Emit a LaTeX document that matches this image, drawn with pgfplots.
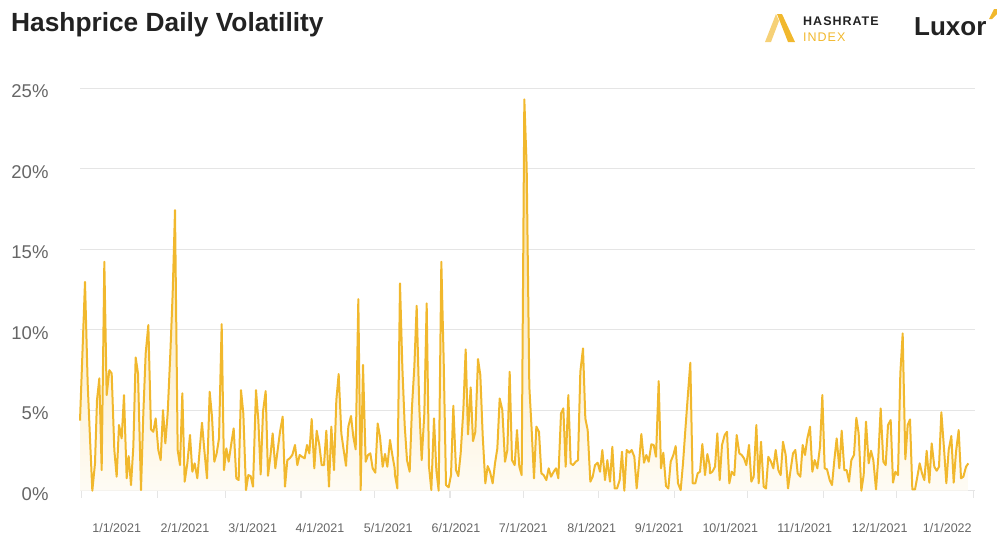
\documentclass[border=0pt]{standalone}
\usepackage{fontspec}
\setmainfont{Liberation Sans}
\usepackage{pgfplots}
\pgfplotsset{compat=1.18}
\usepackage{pgfplotstable}
\definecolor{hy}{RGB}{241,184,45}
\definecolor{gridc}{RGB}{229,229,229}
\definecolor{tickc}{RGB}{102,102,102}
\definecolor{titlec}{RGB}{34,34,34}

\pgfplotstableread{
x y
80 4.35
85 12.98
87.67 6.67
90 3.25
92.33 0
95 1.70
97 5.63
99.33 6.98
101.67 1.28
104.33 14.22
106.67 5.94
109.33 7.49
111.67 7.29
114.33 2.53
116.67 0.87
119 4.08
121.67 3.25
124 5.94
126.67 0.77
128.67 2.15
131 0.35
133.33 2.73
135.67 8.28
138 7.29
141 0.04
143.33 4.80
145.67 8.53
148.33 10.29
151 3.81
153.33 3.66
155.67 4.49
158.33 2.53
160.67 1.90
163 5.01
165.33 2.94
167.67 4.80
170.33 8.53
172.67 12.26
175 17.43
177.67 2.53
180 1.59
182.33 6.05
184.67 0.56
187.33 1.70
190 3.46
192.33 1.18
194.67 1.70
197.33 0.77
199.67 2.53
202 4.22
204.33 2.53
207 0.77
209.67 6.15
212 4.60
214.33 1.80
216.67 2.32
219 3.25
221.67 10.35
224 1.28
226.33 2.63
228.67 1.80
231.33 2.94
233.67 3.87
236.33 0.77
238.67 0.66
241 6.25
243.33 4.80
246 0.04
248.33 0.97
250.67 0.91
253 0.25
256 6.25
258.33 4.39
260.67 1.01
263 4.91
265.67 6.19
268 0.93
270.33 2.11
272.67 3.56
275.33 1.39
277.67 2.53
280 3.66
282.67 4.60
285 0.25
287.33 1.90
289.67 2.01
292.33 2.22
295 2.84
297.33 1.59
299.67 2.22
302 2.11
304.67 2.01
307 2.84
309.33 2.32
311.67 4.45
314.33 1.39
316.67 3.73
319.33 2.84
321.67 1.59
324 1.59
326.33 3.73
329 0.25
331.33 3.98
334 1.28
336.33 5.63
338.67 7.25
341.33 3.56
343.67 2.53
346 1.55
348.33 3.98
351 4.64
353.33 3.35
355.67 2.57
358.33 11.90
360.67 0.04
363 7.81
365.67 1.80
368 2.22
370.33 2.32
372.67 1.39
375.33 1.12
377.67 4.18
380 3.35
382.67 1.49
385 2.28
387.33 1.49
390 3.15
392.33 2.22
394.67 1.39
395 0.97
397.33 0.14
400 12.88
402.33 7.70
404.67 4.08
407 1.90
409.67 1.18
412 5.22
414.33 7.70
416.67 11.49
419.33 5.11
421.67 1.90
424.33 4.80
426.67 11.64
429 1.49
431.33 0.04
434 4.49
436.33 1.28
438.67 0
441.33 14.22
443.67 8.12
446 0.35
448.67 0.21
451 0.97
453.33 5.28
456 1.28
458.33 0.91
460.67 2.32
463.33 5.01
465.67 8.78
468 3.50
470.67 6.42
473 3.08
475.33 3.66
478 8.18
480.33 7.18
482.67 3.46
485.33 0.46
487.67 1.53
490 1.18
492.67 0.46
495 1.70
497.33 2.63
499.67 5.73
502.33 5.01
505 1.80
507.33 2.53
509.67 7.39
512 1.90
514.67 1.59
517 3.77
519.33 1.49
521.67 0.97
524.33 24.31
526.67 20.12
529.33 6.46
531.67 3.77
534 0.77
536.33 3.98
539 3.66
541.33 1.08
543.67 0.97
546.33 0.66
548.67 1.39
551 0.87
553.67 1.18
556 1.39
558.33 0.77
561 4.80
563.33 5.11
565.67 1.49
568.33 5.94
570.67 1.70
573 1.59
575.67 1.80
578 1.90
580.33 7.39
583 8.84
585.33 4.49
587.67 3.77
590.33 0.56
592.67 0.87
595 1.59
597.67 1.74
600 1.18
602.33 2.53
605 0.66
607.33 1.90
610 0.56
612.33 2.73
614.67 0.14
617 0.14
619.67 0.66
622 2.42
624.33 0
626.67 2.53
629.33 2.36
631.67 2.53
634.33 2.11
636.67 0.14
639 1.70
641.33 3.52
644 1.74
646.33 2.22
648.67 1.80
651.33 2.88
653.67 2.84
656 2.11
658.67 6.81
661 1.39
663.33 2.36
666 0.29
668.33 0.14
670.67 1.80
673.33 2.22
675.67 2.77
678 0.46
680.67 0.04
683 1.70
685.33 3.77
688 6.05
690.33 7.95
692.67 0.46
695.33 0.46
697.67 1.08
700 1.18
702.33 2.90
705 0.97
707.33 2.28
709.67 1.59
710 1.08
712.33 1.18
715 1.49
717.33 3.56
719.67 0.66
722 2.84
724.67 3.46
727 3.66
729.33 0.46
731.67 1.18
734.33 0.97
736.67 3.46
739.33 2.32
741.67 2.22
744 2.01
746.33 1.59
749 2.84
751.33 0.56
753.67 0.87
756.33 4.08
758.67 0.46
761 3.04
763.67 0.25
766 0.14
768.33 2.11
771 1.80
773.33 1.39
775.67 2.53
778.33 1.28
780.67 0.97
783 3.04
785.67 2.22
788 0.14
790.33 1.18
793 2.32
795.33 2.53
797.67 1.08
800.33 0.87
802.67 2.84
805 2.22
807.33 3.25
810 3.98
812.33 1.18
814.67 1.90
817.33 1.39
820 2.73
822.33 5.94
824.67 1.39
827 1.33
829.67 0.66
832 0.35
834.33 1.90
836.67 3.25
839.33 1.39
841.67 3.73
844.33 1.28
846.67 1.28
849 0.56
851.33 1.90
854 2.22
856.33 4.53
858.67 3.56
861.33 0
863.67 0.97
866 4.29
868.67 1.70
871 2.48
873.33 1.90
876 0.08
878.33 2.11
880.67 5.11
883.33 1.80
885.67 1.59
888 4.08
890.67 4.39
893 0.50
895.33 1.18
898 0.97
900.33 7.29
902.67 9.77
905.33 1.95
907.67 4.08
910 4.43
912.33 0.08
915 0.08
917.33 0.87
919.67 1.70
922 1.08
924.33 0.66
926.67 2.48
929.33 0.50
931.67 2.94
934.33 1.49
936.67 1.24
939 1.49
941.33 4.87
944 2.63
946.33 0.46
948.67 2.53
951.33 3.40
953.67 0.50
956 2.42
958.67 3.77
961 0.77
963.33 0.87
966 1.49
968.33 1.70
}\vol

\begin{document}
\begin{tikzpicture}
\path[use as bounding box] (0,0) rectangle (997bp,-533bp);
\begin{axis}[
  at={(80bp,-490.7bp)}, anchor=south west,
  scale only axis, width=895bp, height=402.4bp,
  xmin=80, xmax=975, ymin=0, ymax=25,
  clip=false,
  axis line style={draw=none},
  ytick={0,5,10,15,20,25},
  yticklabel={\pgfmathprintnumber{\tick}\%},
  /pgf/number format/assume math mode=true,
  ymajorgrids,
  grid style={draw=gridc, line width=1.2bp},
  xtick={81.7,157.3,225.7,301,374.3,450,523.3,598.7,674.3,747.3,823.3,896.7,973.3},
  xticklabels={},
  tick pos=left,
  tick align=outside,
  major tick length=7bp,
  x tick style={draw=gridc, line width=1.2bp},
  y tick style={draw=none},
  yticklabel style={font=\fontsize{18.5bp}{20bp}\selectfont, text=tickc, xshift=-21bp, yshift=-3bp},
  extra x ticks={116.7,185,252.7,320,388.3,456,523.3,591.7,659.3,730.3,804.7,879.7,947.3},
  extra x tick labels={1/1/2021,2/1/2021,3/1/2021,4/1/2021,5/1/2021,6/1/2021,7/1/2021,8/1/2021,9/1/2021,10/1/2021,11/1/2021,12/1/2021,1/1/2022},
  extra x tick style={major tick length=0pt, tick style={draw=none},
     xticklabel style={font=\fontsize{12.5bp}{14bp}\selectfont, text=tickc, yshift=-29bp}},
]
\addplot[draw=none, top color=hy!50, bottom color=hy!5] table[x=x,y=y] {\vol} \closedcycle;
\addplot[hy, line width=2bp, line join=round, mark=none] table[x=x,y=y] {\vol};
\end{axis}
\node[anchor=base west, inner sep=0, text=titlec] at (11bp,-31bp) {\fontsize{26.3bp}{30bp}\selectfont\bfseries Hashprice Daily Volatility};
% Hashrate Index logo
\fill[hy!65!white] (765bp,-42bp) -- (771bp,-42bp) -- (779bp,-21bp) -- (776bp,-14bp) -- cycle;
\fill[hy] (777bp,-14bp) -- (782bp,-14bp) -- (795bp,-42bp) -- (788bp,-42bp) -- cycle;
\node[anchor=base west, inner sep=0, text=titlec] at (803bp,-25bp) {\fontsize{12.5bp}{14bp}\selectfont\bfseries\addfontfeatures{LetterSpace=8}HASHRATE};
\node[anchor=base west, inner sep=0, text=hy] at (803bp,-41bp) {\fontsize{12.5bp}{14bp}\selectfont\addfontfeatures{LetterSpace=8}INDEX};
\node[anchor=base west, inner sep=0, text=titlec] at (914bp,-35bp) {\fontsize{26bp}{30bp}\selectfont\bfseries Luxor};
\fill[hy] (989bp,-19bp) -- (994bp,-9bp) -- (997bp,-9bp) -- (997bp,-14bp) -- (992bp,-19bp) -- cycle;
\end{tikzpicture}
\end{document}
